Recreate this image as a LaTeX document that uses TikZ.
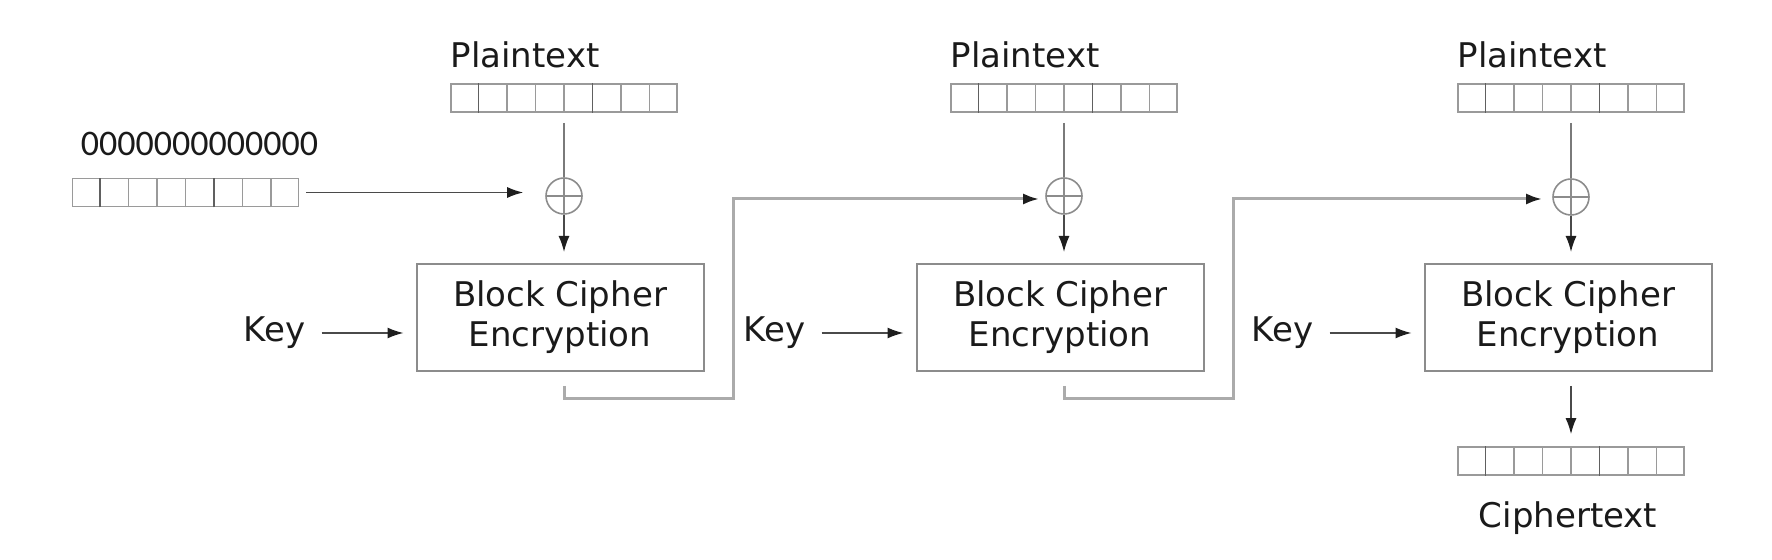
\documentclass[tikz,border=0pt]{standalone}
\usepackage{fontspec}
\setmainfont{DejaVu Sans}
\newfontfamily\zerofont{Carlito}
\usetikzlibrary{arrows.meta,calc}
\definecolor{boxgray}{HTML}{8C8C8C}
\definecolor{cellgray}{HTML}{9A9A9A}
\definecolor{celldark}{HTML}{606060}
\definecolor{fbgray}{HTML}{ABABAB}
\definecolor{arrowblack}{HTML}{1E1E1E}
\definecolor{arrline}{HTML}{4A4A4A}
\definecolor{linegray}{HTML}{7A7A7A}
\definecolor{textblack}{HTML}{1A1A1A}
\begin{document}
\begin{tikzpicture}[x=0.5pt,y=-0.5pt,
  lbl/.style={inner sep=0pt, font=\fontsize{17pt}{20pt}\selectfont, text=textblack},
  bitrow/.style={draw=cellgray, line width=0.8pt, minimum width=113pt, minimum height=14pt, inner sep=0pt},
  cipherbox/.style={draw=boxgray, line width=1pt, minimum width=143.5pt, minimum height=53.5pt, align=center, inner sep=0pt, font=\fontsize{17pt}{20pt}\selectfont, text=textblack},
  xorc/.style={circle, draw=boxgray, line width=0.8pt, minimum size=18pt, inner sep=0pt,
    path picture={\draw[boxgray, line width=0.8pt] (path picture bounding box.north) -- (path picture bounding box.south) (path picture bounding box.west) -- (path picture bounding box.east);}},
  tipk/.tip={Latex[length=8pt,width=5.5pt,color=arrowblack]},
  arrw/.style={draw=arrline, line width=0.75pt, -tipk},
  plainline/.style={draw=linegray, line width=0.75pt},
  feedline/.style={draw=fbgray, line width=1.5pt, line join=miter, -tipk}
]
\path[use as bounding box] (0,0) rectangle (1772,560);

% bit blocks
\node[bitrow] (iv) at (185.5,192.5) {};
\node[bitrow] (p1) at (564,98) {};
\node[bitrow] (p2) at (1064,98) {};
\node[bitrow] (p3) at (1571,98) {};
\node[bitrow] (c3) at (1571,461) {};
\foreach \n in {iv,p1,p2,p3,c3}{
  \foreach \i in {1,...,7}{
    \ifnum\i=1 \def\cc{celldark}\else\ifnum\i=5 \def\cc{celldark}\else\def\cc{cellgray}\fi\fi
    \draw[draw=\cc, line width=0.8pt] ($(\n.south west)!\i/8!(\n.south east)$) -- ($(\n.north west)!\i/8!(\n.north east)$);
  }
}

% labels
\node[inner sep=0pt, text=textblack, font=\zerofont\fontsize{18pt}{20pt}\selectfont] (z) at ([xshift=7pt,yshift=17pt]iv.north) {0000000000000};
\node[lbl, anchor=base west] (pl1) at ([yshift=8pt]p1.north west) {Plaintext};
\node[lbl, anchor=base west] (pl2) at ([yshift=8pt]p2.north west) {Plaintext};
\node[lbl, anchor=base west] (pl3) at ([yshift=8pt]p3.north west) {Plaintext};
\node[lbl, anchor=base] (cl) at ([xshift=-1.5pt,yshift=-26pt]c3.south) {Ciphertext};

% xor circles
\node[xorc] (x1) at (564,196) {};
\node[xorc] (x2) at (1064,196) {};
\node[xorc] (x3) at (1571,197) {};

% cipher boxes
\node[cipherbox] (b1) at (560,317.5) {Block Cipher\\Encryption};
\node[cipherbox] (b2) at (1060,317.5) {Block Cipher\\Encryption};
\node[cipherbox] (b3) at (1568,317.5) {Block Cipher\\Encryption};

% keys
\foreach \b/\k in {b1/k1,b2/k2,b3/k3}{
  \node[lbl, anchor=base east] (\k) at ([xshift=-55pt,yshift=-12.25pt]\b.west) {Key};
  \coordinate (\k a) at ([yshift=-7.75pt]\b.west);
  \draw[arrw, shorten <=8pt, shorten >=6pt] (\k a -| \k.east) -- (\k a);
}

% plaintext to xor
\draw[plainline, shorten <=5pt] (p1.south) -- (x1.north);
\draw[plainline, shorten <=5pt] (p2.south) -- (x2.north);
\draw[plainline, shorten <=5pt] (p3.south) -- (x3.north);

% xor to box
\draw[arrw, shorten >=5.5pt] (x1.south) -- (x1 |- b1.north);
\draw[arrw, shorten >=5.5pt] (x2.south) -- (x2 |- b2.north);
\draw[arrw, shorten >=5.5pt] (x3.south) -- (x3 |- b3.north);

% IV to first xor
\draw[arrw, shorten <=3.5pt, shorten >=11pt] (iv.east) -- (iv.east -| x1.west);

% chaining
\coordinate (f1) at (733,199);
\coordinate (f2) at (1233,199);
\draw[feedline, shorten >=3pt] ($(p1 |- b1.south)+(0,14)$) -- ++(0,13) -| (f1) -- (f1 -| x2.west);
\draw[feedline, shorten >=5pt] ($(p2 |- b2.south)+(0,14)$) -- ++(0,13) -| (f2) -- (f2 -| x3.west);

% output
\draw[arrw, shorten <=7pt, shorten >=6pt] (b3.south -| c3) -- (c3.north);
\end{tikzpicture}
\end{document}
